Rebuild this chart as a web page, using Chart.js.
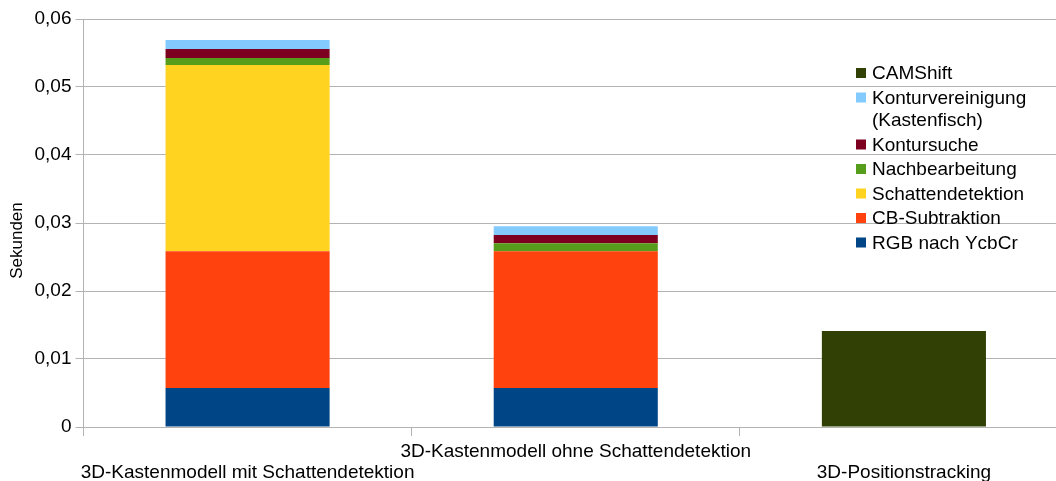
<!DOCTYPE html>
<html>
<head>
<meta charset="utf-8">
<script src="https://cdn.jsdelivr.net/npm/chart.js@4/dist/chart.umd.min.js"></script>
<style>
html,body{margin:0;padding:0;background:#fff;overflow:hidden;}
#wrap{width:1068px;height:481px;position:relative;}
</style>
</head>
<body>
<div id="wrap"><canvas id="grafico" width="1068" height="481"></canvas></div>
<script>
// Kategorien und Laufzeiten je Verarbeitungsschritt (Sekunden)
const kategorien = ["3D-Kastenmodell mit Schattendetektion", "3D-Kastenmodell ohne Schattendetektion", "3D-Positionstracking"];
const rgbNachYcbcr = [0.00574, 0.00574, null];
const cbSubtraktion = [0.0201, 0.0201, null];
const schattendetektion = [0.0274, null, null];
const nachbearbeitung = [0.00103, 0.0012, null];
const kontursuche = [0.00132, 0.00118, null];
const konturvereinigung = [0.00132, 0.00132, null];
const camshift = [null, null, 0.01412];
const yTicks = [0, 0.01, 0.02, 0.03, 0.04, 0.05, 0.06];
const yTitel = "Sekunden";

const FONT = "'Liberation Sans', Arial, sans-serif";

function ds(label, data, color){
return {label:label, data:data, backgroundColor:color, borderWidth:0, stack:"s"};
}

// Legende rechts im Diagramm, oberster Stapel zuerst; dazu die Achsenbeschriftung links
const legendePlugin = {
id:"legende",
afterDraw(chart){
const ctx = chart.ctx;
const sets = chart.data.datasets.slice().reverse();
let y = 73;
ctx.save();
ctx.font = "19px " + FONT;
ctx.textBaseline = "middle";
sets.forEach(d => {
const lines = d.label.split("\n");
ctx.fillStyle = d.backgroundColor;
ctx.fillRect(856, y - 5, 10, 10);
ctx.fillStyle = "#000";
lines.forEach((l,i) => {
ctx.fillText(l, 872, y + 1);
y += (i < lines.length - 1) ? 22.5 : 24.5;
});
});
// Achsentitel, senkrecht, mittig zur Gesamthöhe
ctx.translate(17, chart.height / 2);
ctx.rotate(-Math.PI / 2);
ctx.font = "17px " + FONT;
ctx.textAlign = "center";
ctx.fillText(yTitel, 0, 0);
ctx.restore();
}
};

new Chart(document.getElementById("grafico"), {
type:"bar",
data:{
labels:kategorien,
datasets:[
ds("RGB nach YcbCr", rgbNachYcbcr, "#004586"),
ds("CB-Subtraktion", cbSubtraktion, "#ff420e"),
ds("Schattendetektion", schattendetektion, "#ffd320"),
ds("Nachbearbeitung", nachbearbeitung, "#579d1c"),
ds("Kontursuche", kontursuche, "#7e0021"),
ds("Konturvereinigung\n(Kastenfisch)", konturvereinigung, "#83caff"),
ds("CAMShift", camshift, "#314004")
]
},
options:{
responsive:false,
animation:false,
layout:{padding:{top:19, right:0, left:0, bottom:0}},
plugins:{legend:{display:false}, tooltip:{enabled:false}},
datasets:{bar:{categoryPercentage:1, barPercentage:0.5}},
scales:{
x:{
stacked:true,
grid:{offset:true, drawOnChartArea:false, color:"#b3b3b3", tickLength:9, lineWidth:1},
border:{color:"#b3b3b3", width:1},
ticks:{
color:"#000",
font:{family:FONT, size:19, lineHeight:1.07},
padding:6,
maxRotation:0,
autoSkip:false,
callback:function(v, i){
const t = kategorien[i];
return i % 2 === 0 ? ["", t] : [t];
}
},
afterFit(s){ s.height = 54; }
},
y:{
stacked:true,
min:0,
max:0.06,
afterBuildTicks(s){ s.ticks = yTicks.map(v => ({value:v})); },
grid:{color:"#b3b3b3", tickLength:8, lineWidth:1},
border:{color:"#b3b3b3", width:1},
ticks:{
color:"#000",
font:{family:FONT, size:19},
padding:4,
callback:v => v === 0 ? "0" : v.toFixed(2).replace(".", ",")
},
afterFit(s){ s.width = 83.5; }
}
}
},
plugins:[legendePlugin]
});
</script>
</body>
</html>
